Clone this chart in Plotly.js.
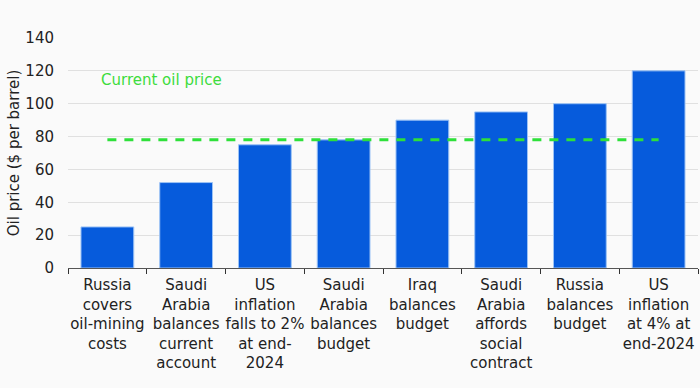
<!DOCTYPE html>
<html><head><meta charset="utf-8">
<script src="https://cdn.plot.ly/plotly-3.0.1.min.js"></script>
<style>html,body{margin:0;padding:0;background:#fafafa;}</style>
</head><body>
<div id="chart" style="width:700px;height:388px;"></div>
<script>
const categories = [
  "Russia<br>covers<br>oil-mining<br>costs",
  "Saudi<br>Arabia<br>balances<br>current<br>account",
  "US<br>inflation<br>falls to 2%<br>at end-<br>2024",
  "Saudi<br>Arabia<br>balances<br>budget",
  "Iraq<br>balances<br>budget",
  "Saudi<br>Arabia<br>affords<br>social<br>contract",
  "Russia<br>balances<br>budget",
  "US<br>inflation<br>at 4% at<br>end-2024"
];
const breakevenPrices = [25, 52, 75, 78, 90, 95, 100, 120];
const currentOilPrice = 78;
const yTicks = [0, 20, 40, 60, 80, 100, 120, 140];

const font = "DejaVu Sans, sans-serif";
const data = [
  {
    type: "bar",
    x: categories,
    y: breakevenPrices,
    marker: {color: "#065bdc", line: {color: "#9cc3f5", width: 1}},
    width: 0.67,
    hoverinfo: "none"
  },
  {
    type: "scatter",
    mode: "lines",
    x: [categories[0], categories[categories.length - 1]],
    y: [currentOilPrice, currentOilPrice],
    line: {color: "#2ee03a", width: 3, dash: "9px,8px"},
    hoverinfo: "none"
  }
];
const layout = {
  width: 700, height: 388,
  margin: {l: 68, r: 2, t: 38, b: 120},
  paper_bgcolor: "#fafafa",
  plot_bgcolor: "#fafafa",
  showlegend: false,
  font: {family: font, size: 15, color: "#222"},
  xaxis: {
    type: "category",
    tickson: "boundaries",
    ticks: "outside",
    ticklen: 5,
    tickcolor: "#333",
    showline: true,
    linecolor: "#555",
    linewidth: 1,
    showgrid: false,
    tickangle: 0,
    ticklabelstandoff: 3,
    tickfont: {family: font, size: 15, color: "#222"}
  },
  yaxis: {
    range: [0, 140],
    tickvals: yTicks,
    showgrid: true,
    gridcolor: "#e0e0e0",
    zeroline: false,
    ticks: "",
    ticklabelstandoff: 13,
    tickfont: {family: font, size: 15, color: "#222"},
    title: {text: "Oil price ($ per barrel)", font: {family: font, size: 15, color: "#222"}}
  },
  annotations: [
    {
      x: 0, y: 114.5, xref: "x", yref: "y",
      xanchor: "left", yanchor: "middle", xshift: -8,
      text: "Current oil price", showarrow: false,
      font: {family: font, size: 15, color: "#3ddc3d"}
    }
  ]
};
Plotly.newPlot("chart", data, layout, {displayModeBar: false, staticPlot: true});
</script>
</body></html>
